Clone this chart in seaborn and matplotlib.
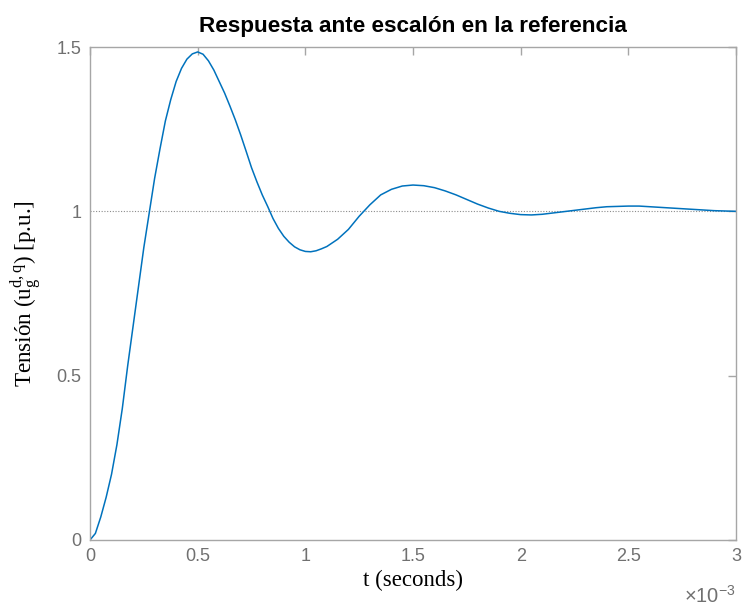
import matplotlib
matplotlib.use("Agg")
import matplotlib.pyplot as plt
import seaborn as sns
import pandas as pd
from matplotlib.ticker import FuncFormatter, FixedLocator

# ---- data (t in ms, response in p.u.) ----
t_ms = [0.000, 0.025, 0.050, 0.075, 0.100, 0.125, 0.150, 0.175, 0.200,
        0.225, 0.250, 0.275, 0.300, 0.325, 0.350, 0.375, 0.400, 0.425,
        0.450, 0.475, 0.500, 0.525, 0.550, 0.575, 0.600, 0.625, 0.650,
        0.675, 0.700, 0.725, 0.750, 0.775, 0.800, 0.825, 0.850, 0.875,
        0.900, 0.925, 0.950, 0.975, 1.000, 1.025, 1.050, 1.075, 1.100,
        1.150, 1.200, 1.250, 1.300, 1.350, 1.400, 1.450, 1.500, 1.550,
        1.600, 1.650, 1.700, 1.750, 1.800, 1.850, 1.900, 1.950, 2.000,
        2.050, 2.100, 2.150, 2.200, 2.250, 2.300, 2.350, 2.400, 2.450,
        2.500, 2.550, 2.600, 2.650, 2.700, 2.750, 2.800, 2.850, 2.900,
        2.950, 3.000]
resp = [0.000, 0.020, 0.070, 0.130, 0.200, 0.290, 0.400, 0.530, 0.650,
        0.770, 0.890, 0.995, 1.100, 1.190, 1.275, 1.340, 1.395, 1.435,
        1.463, 1.479, 1.485, 1.478, 1.458, 1.430, 1.395, 1.360, 1.320,
        1.278, 1.232, 1.183, 1.133, 1.090, 1.050, 1.015, 0.978, 0.948,
        0.924, 0.906, 0.892, 0.883, 0.878, 0.877, 0.880, 0.886, 0.893,
        0.915, 0.945, 0.985, 1.020, 1.050, 1.067, 1.077, 1.080, 1.078,
        1.072, 1.062, 1.050, 1.036, 1.022, 1.010, 1.000, 0.994, 0.990,
        0.989, 0.991, 0.995, 0.999, 1.003, 1.007, 1.011, 1.014, 1.015,
        1.016, 1.016, 1.014, 1.012, 1.010, 1.008, 1.006, 1.004, 1.002,
        1.001, 1.000]
x_ticks = [0, 0.5, 1, 1.5, 2, 2.5, 3]
y_ticks = [0, 0.5, 1, 1.5]
reference_level = 1.0

title = "Respuesta ante escalón en la referencia"
xlabel = "t (seconds)"
ylabel = r"Tensión (u$_{\mathrm{g}}^{\mathrm{d,q}}$) [p.u.]"

sns.set_style("white")
plt.rcParams["mathtext.fontset"] = "custom"
plt.rcParams["mathtext.rm"] = "Liberation Serif"
plt.rcParams["mathtext.it"] = "Liberation Serif"
plt.rcParams["mathtext.sf"] = "Liberation Sans"
plt.rcParams["font.family"] = ["Liberation Sans", "DejaVu Sans"]

df = pd.DataFrame({"t": t_ms, "u": resp})

fig = plt.figure(figsize=(7.42, 6.07), dpi=100)
ax = fig.add_axes([90 / 742, 1 - 540 / 607, 646 / 742, 493 / 607])

sns.lineplot(data=df, x="t", y="u", ax=ax, color="#0072BD", linewidth=1.1)
ax.axhline(reference_level, color="#8c8c8c", linestyle=(0, (1, 1.5)), linewidth=0.8, zorder=1)

ax.set_xlim(0, 3)
ax.set_ylim(0, 1.5)
ax.xaxis.set_major_locator(FixedLocator(x_ticks))
ax.yaxis.set_major_locator(FixedLocator(y_ticks))
fmt = FuncFormatter(lambda v, p: "%g" % v)
ax.xaxis.set_major_formatter(fmt)
ax.yaxis.set_major_formatter(fmt)

grey = "#a6a6a6"
for s in ax.spines.values():
    s.set_visible(True)
    s.set_color(grey)
    s.set_linewidth(1.0)
ax.tick_params(direction="in", top=True, right=True, length=6, width=1.0,
               color=grey, labelcolor="#707070", labelsize=13, pad=6)

ax.set_title(title, fontsize=16.2, fontweight="bold", color="black", pad=11)
ax.set_xlabel(xlabel, fontsize=16.5, family=["Liberation Serif"], color="black", labelpad=3)
ax.set_ylabel(ylabel, fontsize=16.7, family=["Liberation Serif"], color="black")
ax.yaxis.set_label_coords(-0.070, 0.50)

ax.text(1.0, -0.114, r"$\mathsf{\times 10^{-3}}$", transform=ax.transAxes,
        ha="right", va="center", fontsize=14.5, color="#707070")

fig.savefig("out.png", dpi=100, facecolor="white")
